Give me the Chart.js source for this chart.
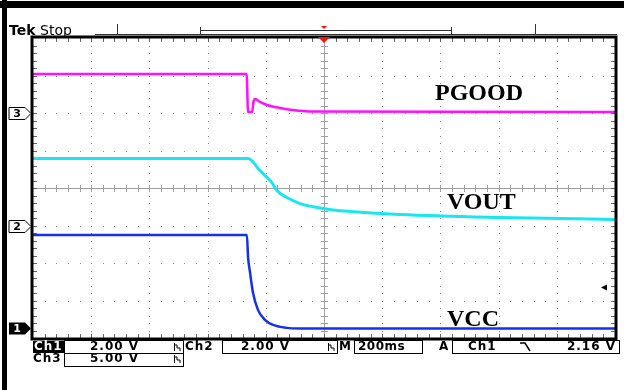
<!DOCTYPE html>
<html>
<head>
<meta charset="utf-8">
<script src="https://cdn.jsdelivr.net/npm/chart.js@4.4.1/dist/chart.umd.min.js"></script>
<style>
  body { margin: 0; background: #fff; }
  canvas { display: block; }
</style>
</head>
<body>
<canvas id="scope" width="624" height="390"></canvas>
<script>
// Time in ms (trigger at 0), 200 ms/div, 10 divisions
const pgoodTime  = [-1000, -266, -261, -247, -242, -237, -220, -196, -151, -107, -40, 1000];
const pgoodVolts = [5.2, 5.2, 0.13, 0.13, 1.6, 1.87, 1.47, 1.07, 0.67, 0.4, 0.2, 0.13];

const voutTime  = [-1000, -261, -220, -192, -179, -162, -127, -82, -24, 31, 89, 261, 605, 1000];
const voutVolts = [3.57, 3.57, 2.93, 2.51, 2.29, 1.87, 1.49, 1.17, 0.96, 0.83, 0.75, 0.59, 0.43, 0.32];

const vccTime  = [-1000, -265, -261, -254, -244, -227, -203, -175, -127, -82, 1000];
const vccVolts = [4.96, 4.96, 3.79, 2.93, 1.87, 0.96, 0.43, 0.16, 0.0, -0.03, -0.03];

// channel settings: volts per division and ground offset (divisions from centre)
const ch1 = { vdiv: 2, offset: -3.73 };   // VCC
const ch2 = { vdiv: 2, offset: -1.0 };    // VOUT
const ch3 = { vdiv: 5, offset: 2.0 };     // PGOOD
const trigLevel = 2.16;

const toDivs = (times, volts, ch) =>
    times.map((t, i) => ({ x: t, y: volts[i] / ch.vdiv + ch.offset }));

// ====== graticule, frame and readouts ======
const scopePlugin = {
    id: 'scope',
    beforeDraw(chart) {
        const ctx = chart.ctx;
        const a = chart.chartArea;
        const dx = (a.right - a.left) / 10, dy = (a.bottom - a.top) / 8;
        ctx.save();
        ctx.fillStyle = '#fff';
        ctx.fillRect(0, 0, chart.width, chart.height);

        // dotted grid
        ctx.fillStyle = '#8a8a8a';
        for (let i = 1; i < 10; i++) {
            if (i === 5) continue;
            const x = Math.round(a.left + i * dx);
            for (let k = 1; k < 40; k++) ctx.fillRect(x, Math.round(a.top + k * dy / 5), 1, 1);
        }
        for (let j = 1; j < 8; j++) {
            if (j === 4) continue;
            const y = Math.round(a.top + j * dy);
            for (let k = 1; k < 50; k++) ctx.fillRect(Math.round(a.left + k * dx / 5), y, 1, 1);
        }
        // centre cross with ticks
        const cx = Math.round(a.left + 5 * dx), cy = Math.round(a.top + 4 * dy);
        ctx.fillStyle = '#a0a0a0';
        ctx.fillRect(cx, a.top, 1, a.bottom - a.top);
        ctx.fillRect(a.left, cy, a.right - a.left, 1);
        for (let k = 1; k < 40; k++) ctx.fillRect(cx - 3, Math.round(a.top + k * dy / 5), 7, 1);
        for (let k = 1; k < 50; k++) ctx.fillRect(Math.round(a.left + k * dx / 5), cy - 3, 1, 7);
        // border ticks
        ctx.fillStyle = '#666';
        for (let k = 1; k < 50; k++) {
            const x = Math.round(a.left + k * dx / 5);
            ctx.fillRect(x, a.top, 1, 4);
            ctx.fillRect(x, a.bottom - 4, 1, 4);
        }
        for (let k = 1; k < 40; k++) {
            const y = Math.round(a.top + k * dy / 5);
            ctx.fillRect(a.left, y, 4, 1);
            ctx.fillRect(a.right - 4, y, 4, 1);
        }
        ctx.restore();
    },
    afterDraw(chart) {
        const ctx = chart.ctx;
        const a = chart.chartArea;
        const xs = chart.scales.x, ys = chart.scales.y;
        ctx.save();

        // outer black bars of the screenshot
        ctx.fillStyle = '#000';
        ctx.fillRect(0, 1, 624, 7);
        ctx.fillRect(2, 0, 5, 390);

        // graticule frame
        ctx.strokeStyle = '#000';
        ctx.lineWidth = 3;
        ctx.strokeRect(a.left - 1, a.top - 1, a.right - a.left + 2, a.bottom - a.top + 2);

        // header
        ctx.fillStyle = '#000';
        ctx.textBaseline = 'alphabetic';
        ctx.font = 'bold 14px "DejaVu Sans"';
        ctx.fillText('Tek', 9, 35);
        ctx.font = '14px "DejaVu Sans"';
        ctx.fillText('Stop', 40, 35);

        ctx.lineWidth = 1;
        ctx.strokeStyle = '#333';
        ctx.beginPath();
        ctx.moveTo(95, 34.5); ctx.lineTo(617, 34.5);
        ctx.moveTo(117.5, 24); ctx.lineTo(117.5, 34);
        ctx.moveTo(535.5, 24); ctx.lineTo(535.5, 34);
        ctx.moveTo(200.5, 27); ctx.lineTo(200.5, 35);
        ctx.moveTo(451.5, 27); ctx.lineTo(451.5, 35);
        ctx.moveTo(200, 30.5); ctx.lineTo(452, 30.5);
        ctx.stroke();

        // trigger position markers
        const tx = xs.getPixelForValue(0);
        ctx.fillStyle = '#ff1010';
        ctx.beginPath();
        ctx.moveTo(tx - 3, 26); ctx.lineTo(tx + 3, 26); ctx.lineTo(tx, 29); ctx.closePath();
        ctx.fill();
        ctx.beginPath();
        ctx.moveTo(tx - 6, a.top - 1); ctx.lineTo(tx + 6, a.top - 1); ctx.lineTo(tx, a.top + 5); ctx.closePath();
        ctx.fill();

        // trigger level arrow on right
        const ty = ys.getPixelForValue(trigLevel / ch1.vdiv + ch1.offset);
        ctx.fillStyle = '#000';
        ctx.beginPath();
        ctx.moveTo(a.right - 14, ty); ctx.lineTo(a.right - 8, ty - 3); ctx.lineTo(a.right - 8, ty + 3); ctx.closePath();
        ctx.fill();

        // channel ground markers
        const marker = (label, ch, filled) => {
            const y = Math.round(ys.getPixelForValue(ch.offset)) + 0.5;
            ctx.beginPath();
            ctx.moveTo(9, y - 6); ctx.lineTo(25, y - 6); ctx.lineTo(31, y);
            ctx.lineTo(25, y + 6); ctx.lineTo(9, y + 6); ctx.closePath();
            ctx.lineWidth = 1;
            if (filled) { ctx.fillStyle = '#000'; ctx.fill(); }
            else { ctx.fillStyle = '#fff'; ctx.fill(); ctx.strokeStyle = '#000'; ctx.stroke(); }
            ctx.fillStyle = filled ? '#fff' : '#000';
            ctx.font = 'bold 11px "DejaVu Sans"';
            ctx.textAlign = 'center';
            ctx.textBaseline = 'middle';
            ctx.fillText(label, 17, y + 0.5);
        };
        marker('3', ch3, false);
        marker('2', ch2, false);
        marker('1', ch1, true);

        // trace names
        ctx.fillStyle = '#000';
        ctx.textAlign = 'left';
        ctx.textBaseline = 'alphabetic';
        ctx.font = 'bold 24px "Liberation Serif"';
        ctx.fillText('PGOOD', 435, 100);
        ctx.fillText('VOUT', 447, 209);
        ctx.fillText('VCC', 447, 326);

        // readouts
        const box = (x1, x2, y1, y2) => {
            ctx.strokeStyle = '#000';
            ctx.lineWidth = 1;
            ctx.strokeRect(x1 + 0.5, y1 + 0.5, x2 - x1, y2 - y1);
        };
        const bw = (x, y) => {
            ctx.strokeStyle = '#000';
            ctx.lineWidth = 1;
            ctx.beginPath();
            ctx.moveTo(x + 0.5, y - 4); ctx.lineTo(x + 0.5, y + 4);
            ctx.moveTo(x + 0.5, y - 2); ctx.lineTo(x + 3, y - 2); ctx.lineTo(x + 3, y + 1);
            ctx.lineTo(x + 6, y + 1); ctx.lineTo(x + 6, y + 4);
            ctx.stroke();
        };
        ctx.font = 'bold 12px "DejaVu Sans"';
        ctx.letterSpacing = '1px';
        ctx.textBaseline = 'middle';
        const r1 = 347, r2 = 359;
        ctx.fillStyle = '#000';
        ctx.fillRect(33, 341, 31, 12);
        ctx.fillStyle = '#fff';
        ctx.fillText('Ch1', 34, r1);
        ctx.fillStyle = '#000';
        box(64, 183, 340, 353);
        ctx.fillText('2.00 V', 90, r1);
        bw(174, r1);
        ctx.fillText('Ch2', 185, r1);
        box(222, 337, 340, 353);
        ctx.fillText('2.00 V', 241, r1);
        bw(328, r1);
        ctx.fillText('M', 339, r1);
        box(354, 422, 340, 353);
        ctx.letterSpacing = '0.5px';
        ctx.fillText('200ms', 358, r1);
        ctx.letterSpacing = '1px';
        ctx.fillText('A', 439, r1);
        box(452, 619, 340, 353);
        ctx.fillText('Ch1', 468, r1);
        ctx.beginPath();
        ctx.moveTo(520, r1 - 4); ctx.lineTo(525, r1 - 4); ctx.lineTo(530, r1 + 4);
        ctx.lineWidth = 1.5;
        ctx.stroke();
        ctx.textAlign = 'right';
        ctx.fillText('2.16 V', 616, r1);
        ctx.textAlign = 'left';
        ctx.fillText('Ch3', 33, r2);
        box(64, 183, 353, 366);
        ctx.fillText('5.00 V', 90, r2);
        bw(174, r2);

        ctx.restore();
    }
};

new Chart(document.getElementById('scope').getContext('2d'), {
    type: 'line',
    data: {
        datasets: [
            { label: 'PGOOD', data: toDivs(pgoodTime, pgoodVolts, ch3), borderColor: '#ff10ff', borderWidth: 2.5 },
            { label: 'VOUT', data: toDivs(voutTime, voutVolts, ch2), borderColor: '#18e6f2', borderWidth: 3 },
            { label: 'VCC', data: toDivs(vccTime, vccVolts, ch1), borderColor: '#1630f0', borderWidth: 2.5 }
        ]
    },
    options: {
        responsive: false,
        animation: false,
        devicePixelRatio: 1,
        layout: { padding: { left: 33, top: 38, right: 9, bottom: 52 } },
        elements: {
            point: { radius: 0 },
            line: { cubicInterpolationMode: 'monotone' }
        },
        scales: {
            x: { type: 'linear', min: -1000, max: 1000, display: false },
            y: { min: -4, max: 4, display: false }
        },
        plugins: { legend: { display: false }, tooltip: { enabled: false } }
    },
    plugins: [scopePlugin]
});
</script>
</body>
</html>
